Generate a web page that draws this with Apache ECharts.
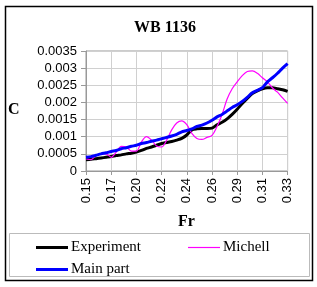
<!DOCTYPE html>
<html><head><meta charset="utf-8">
<script src="https://cdn.jsdelivr.net/npm/echarts@6/dist/echarts.min.js"></script>
<style>html,body{margin:0;padding:0;background:#fff}#c{width:317px;height:287px}</style>
</head><body><div id="c"></div>
<script>
const frValues = [0.15,0.1545,0.159,0.1635,0.168,0.1725,0.177,0.1815,0.186,0.1905,0.195,0.1995,0.204,0.2085,0.213,0.2175,0.222,0.2265,0.231,0.2355,0.24,0.2445,0.249,0.2535,0.258,0.2625,0.267,0.2715,0.276,0.2805,0.285,0.2895,0.294,0.2985,0.303,0.3075,0.312,0.3165,0.321,0.3255,0.33];
const xTickLabels = ['0.15','0.17','0.20','0.22','0.24','0.26','0.29','0.31','0.33'];
const experiment = [0.00033,0.00034,0.00036,0.00038,0.0004,0.00042,0.00045,0.00047,0.0005,0.00052,0.00055,0.0006,0.00066,0.0007,0.00075,0.0008,0.00083,0.00086,0.0009,0.00095,0.00105,0.0012,0.00123,0.00124,0.00124,0.00125,0.00135,0.00142,0.00152,0.00165,0.0018,0.00197,0.00212,0.00226,0.00234,0.0024,0.00243,0.00243,0.0024,0.00237,0.00232];
const michell = [0.00035,0.00033,0.00045,0.0005,0.0005,0.0004,0.00055,0.00072,0.0007,0.00058,0.00058,0.00085,0.001,0.0009,0.00073,0.0007,0.0009,0.0012,0.0014,0.00146,0.00135,0.0011,0.00095,0.00092,0.00098,0.00104,0.0013,0.00165,0.0021,0.0024,0.0026,0.00278,0.0029,0.00292,0.00285,0.00272,0.0026,0.00242,0.0023,0.00213,0.00197];
const mainPart = [0.0004,0.00042,0.00046,0.0005,0.00053,0.00057,0.0006,0.00065,0.00068,0.00072,0.00075,0.0008,0.00083,0.00087,0.0009,0.00094,0.00098,0.00102,0.00107,0.00114,0.00118,0.00123,0.0013,0.00134,0.0014,0.00148,0.00158,0.00165,0.00175,0.00185,0.00193,0.00203,0.00215,0.00228,0.00235,0.00243,0.0026,0.00272,0.00285,0.003,0.00313];

const serif = '"Liberation Serif","Times New Roman",serif';
const sans = '"Liberation Sans",Arial,sans-serif';
const legendText = {fontFamily:serif,fontSize:15,color:'#000',padding:[0,0,0,-2]};
const chart = echarts.init(document.getElementById('c'), null, {renderer:'canvas'});
chart.setOption({
  animation:false,
  backgroundColor:'#fff',
  title:{text:'WB 1136',left:160,top:15,textAlign:'center',textStyle:{fontFamily:serif,fontWeight:'bold',fontSize:16,color:'#000'}},
  grid:{left:86,top:51,width:201.6,height:120,show:true,borderColor:'#999',borderWidth:1},
  xAxis:{type:'category',boundaryGap:false,data:frValues,
    axisLine:{lineStyle:{color:'#999'}},
    axisTick:{interval:4,length:4,lineStyle:{color:'#999'}},
    axisLabel:{interval:0,rotate:90,margin:7,fontFamily:sans,fontSize:13,color:'#000',
      formatter:(v,i)=> i%5===0 ? xTickLabels[i/5] : ''},
    splitLine:{show:true,interval:4,lineStyle:{color:'#d0d0d0'}}},
  yAxis:{type:'value',min:0,max:0.0035,interval:0.0005,
    axisLine:{show:true,lineStyle:{color:'#999'}},
    axisTick:{show:true,length:5,lineStyle:{color:'#999'}},
    axisLabel:{margin:9,fontFamily:sans,fontSize:13,color:'#000',formatter:v=>String(parseFloat(v.toFixed(4)))},
    splitLine:{lineStyle:{color:'#d0d0d0'}}},
  legend:[
    {data:['Experiment'],icon:'rect',left:31,top:235,itemWidth:32,itemHeight:3,textStyle:legendText},
    {data:['Michell'],icon:'rect',left:183,top:235,itemWidth:32,itemHeight:1.2,textStyle:legendText},
    {data:['Main part'],icon:'rect',left:31,top:257,itemWidth:32,itemHeight:3,textStyle:legendText}
  ],
  series:[
    {name:'Experiment',type:'line',data:experiment,symbol:'none',smooth:0.25,lineStyle:{color:'#000',width:3},itemStyle:{color:'#000'},z:2},
    {name:'Michell',type:'line',data:michell,symbol:'none',smooth:0.3,lineStyle:{color:'#ff00ff',width:1.2},itemStyle:{color:'#ff00ff'},z:3},
    {name:'Main part',type:'line',data:mainPart,symbol:'none',smooth:0.25,lineStyle:{color:'#0000ff',width:3},itemStyle:{color:'#0000ff'},z:4}
  ],
  graphic:[
    {type:'rect',shape:{x:5.5,y:6.5,width:307,height:274},style:{fill:'none',stroke:'#000',lineWidth:1.5},silent:true,z:-1},
    {type:'rect',shape:{x:9.5,y:233.5,width:300,height:43},style:{fill:'none',stroke:'#bbb',lineWidth:1},silent:true,z:-1},
    {type:'text',left:8,top:102,style:{text:'C',font:'bold 16px '+serif,fill:'#000'}},
    {type:'text',left:178,top:214,style:{text:'Fr',font:'bold 16px '+serif,fill:'#000'}}
  ]
});
</script></body></html>
